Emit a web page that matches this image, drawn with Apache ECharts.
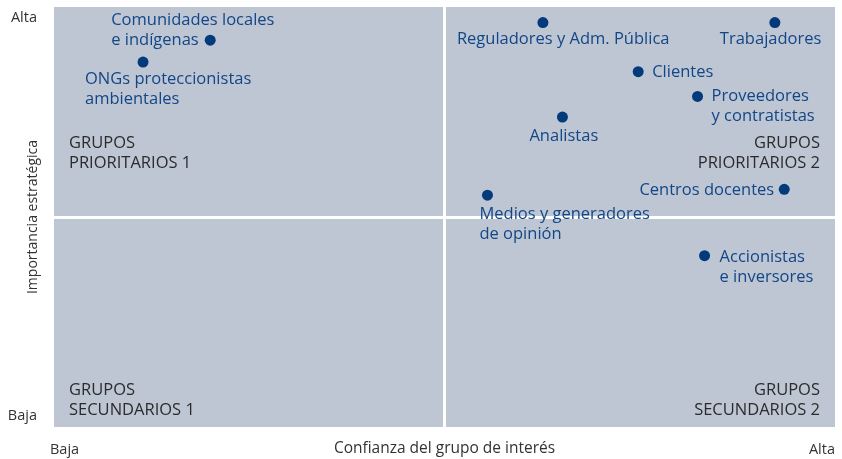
<!DOCTYPE html>
<html>
<head>
<meta charset="utf-8">
<script src="https://cdn.jsdelivr.net/npm/echarts@6/dist/echarts.min.js"></script>
<style>
  html, body { margin: 0; padding: 0; background: #ffffff; }
  #chart { width: 842px; height: 459px; }
</style>
</head>
<body>
<div id="chart"></div>
<script>
// grupos de interés: nombre, confianza (x), importancia (y)
const groupNames = [
    'Comunidades locales\ne indígenas',
    'ONGs proteccionistas\nambientales',
    'Reguladores y Adm. Pública',
    'Trabajadores',
    'Clientes',
    'Proveedores\ny contratistas',
    'Analistas',
    'Centros docentes',
    'Medios y generadores\nde opinión',
    'Accionistas\ne inversores'
];
const trustValues = [2.0, 1.14, 6.26, 9.23, 7.48, 8.24, 6.51, 9.35, 5.55, 8.33];
const importanceValues = [9.21, 8.69, 9.63, 9.63, 8.46, 7.87, 7.38, 5.66, 5.52, 4.08];
const axisTickLabels = ['Baja', 'Alta'];

// colocación de las etiquetas respecto al punto (alineación, desplazamiento)
const labelLayout = [
    ['left', -99, -30],
    ['left', -58, 7],
    ['left', -86, 7],
    ['left', -55, 7],
    ['left', 14, -9],
    ['left', 14, -10],
    ['left', -33, 9],
    ['right', -10, -9],
    ['left', -8, 9],
    ['left', 15, -8]
];

const FONT = '"Open Sans", "Noto Sans", sans-serif';
const BLUE_TEXT = '#124686';
const BLUE_DOT = '#023a7c';
const QUAD_STYLE = { font: '16.5px ' + FONT, lineHeight: 20, fill: '#2b2b2b' };

let chart = echarts.init(document.getElementById('chart'));

let points = groupNames.map(function (name, i) {
    return {
        name: name,
        value: [trustValues[i], importanceValues[i]],
        label: {
            align: labelLayout[i][0],
            offset: [labelLayout[i][1], labelLayout[i][2]]
        }
    };
});

// textos de los cuadrantes (una línea por elemento para alinear a la derecha)
function quadText(text, pos, align) {
    return {
        type: 'text',
        left: align === 'left' ? pos[0] : null,
        right: align === 'right' ? pos[0] : null,
        top: pos[1],
        style: Object.assign({ text: text, align: align }, QUAD_STYLE)
    };
}

let option = {
    animation: false,
    grid: {
        left: 54,
        right: 7,
        top: 7,
        bottom: 32,
        outerBoundsMode: 'none',
        containLabel: false,
        show: true,
        backgroundColor: '#bec6d4',
        borderWidth: 0
    },
    xAxis: {
        type: 'value',
        min: 0,
        max: 10,
        interval: 10,
        name: 'Confianza del grupo de interés',
        nameLocation: 'middle',
        nameGap: 14,
        nameMoveOverlap: false,
        nameTextStyle: { color: '#333', fontSize: 15.5, fontFamily: FONT, lineHeight: 16 },
        axisLine: { show: false },
        axisTick: { show: false },
        splitLine: { show: false },
        axisLabel: {
            margin: 15,
            color: '#333',
            fontSize: 14.5,
            fontFamily: FONT,
            alignMinLabel: 'left',
            alignMaxLabel: 'right',
            padding: [0, 0, 0, -4],
            formatter: function (v) { return v === 0 ? axisTickLabels[0] : axisTickLabels[1]; }
        }
    },
    yAxis: {
        type: 'value',
        min: 0,
        max: 10,
        interval: 10,
        name: 'Importancia estratégica',
        nameLocation: 'middle',
        nameGap: 14,
        nameMoveOverlap: false,
        nameTextStyle: { color: '#333', fontSize: 14, fontFamily: FONT },
        axisLine: { show: false },
        axisTick: { show: false },
        splitLine: { show: false },
        axisLabel: {
            margin: 17,
            color: '#333',
            fontSize: 14.5,
            fontFamily: FONT,
            lineHeight: 22,
            verticalAlignMinLabel: 'bottom',
            verticalAlignMaxLabel: 'top',
            formatter: function (v) { return v === 0 ? axisTickLabels[0] : axisTickLabels[1]; }
        }
    },
    graphic: [
        quadText('GRUPOS', [69, 133], 'left'),
        quadText('PRIORITARIOS 1', [69, 153], 'left'),
        quadText('GRUPOS', [22, 133], 'right'),
        quadText('PRIORITARIOS 2', [22, 153], 'right'),
        quadText('GRUPOS', [69, 380], 'left'),
        quadText('SECUNDARIOS 1', [69, 400], 'left'),
        quadText('GRUPOS', [22, 380], 'right'),
        quadText('SECUNDARIOS 2', [22, 400], 'right')
    ],
    series: [
        {
            type: 'scatter',
            z: 1,
            data: [],
            markLine: {
                z: 1,
                silent: true,
                symbol: 'none',
                label: { show: false },
                lineStyle: { color: '#ffffff', width: 3, type: 'solid', opacity: 1 },
                data: [{ xAxis: 5 }, { yAxis: 5 }]
            }
        },
        {
            type: 'scatter',
            z: 6,
            symbolSize: 11,
            itemStyle: { color: BLUE_DOT, opacity: 1 },
            label: {
                show: true,
                position: 'inside',
                verticalAlign: 'top',
                lineHeight: 20,
                color: BLUE_TEXT,
                fontSize: 16.5,
                fontFamily: FONT,
                formatter: '{b}'
            },
            data: points
        }
    ]
};

chart.setOption(option);
</script>
</body>
</html>
